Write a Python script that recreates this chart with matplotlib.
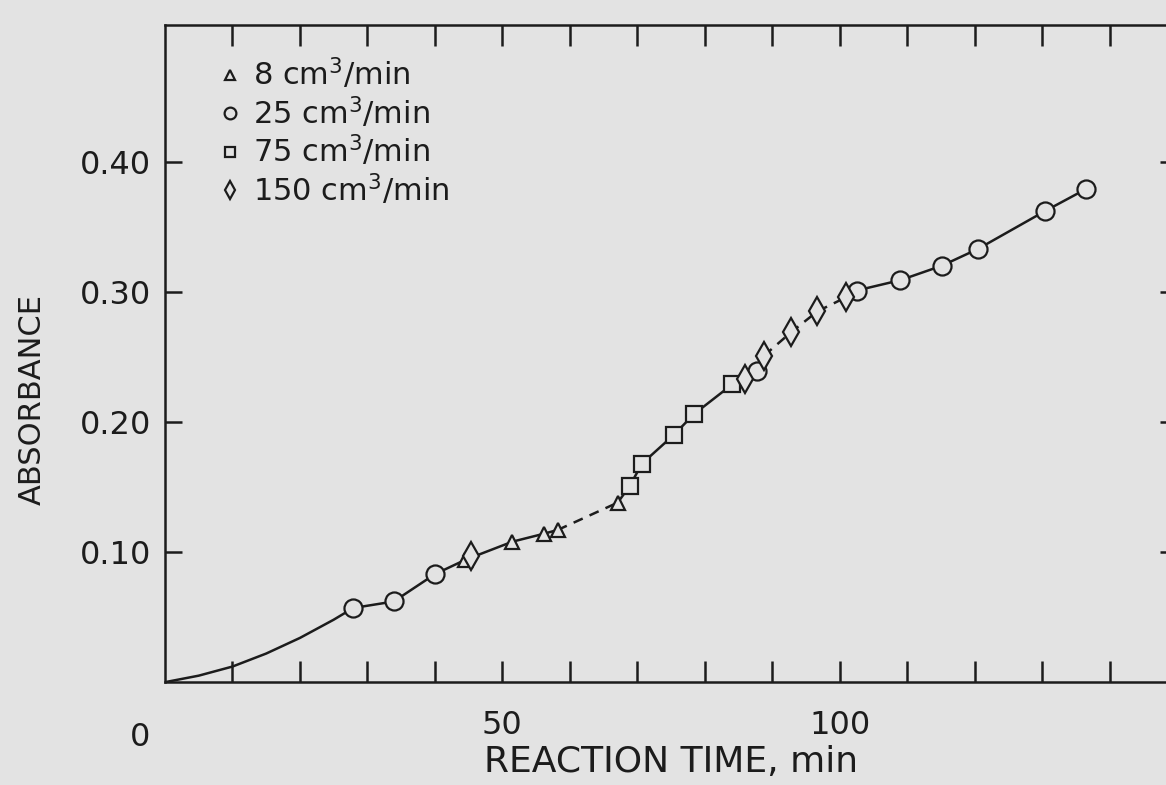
import numpy as np
import matplotlib
matplotlib.use("Agg")
import matplotlib.pyplot as plt

# data (reaction time in min, absorbance)
t_8 = [44.5, 51.5, 56.1, 58.2, 67.1]
a_8 = [0.094, 0.108, 0.114, 0.117, 0.138]

t_25 = [27.9, 33.9, 40.0, 87.8, 102.5, 109.0, 115.1, 120.5, 130.4, 136.5]
a_25 = [0.057, 0.062, 0.083, 0.239, 0.301, 0.309, 0.320, 0.333, 0.362, 0.379]

t_75 = [68.9, 70.7, 75.4, 78.4, 84.1]
a_75 = [0.151, 0.168, 0.190, 0.206, 0.229]

t_150 = [45.3, 86.0, 88.8, 92.8, 96.7, 101.0]
a_150 = [0.097, 0.233, 0.251, 0.269, 0.285, 0.296]

# hand-drawn curve through the points (solid and dashed pieces)
curve1_t = [0, 5, 10, 15, 20, 25, 27.9, 33.9, 40.0, 44.5, 51.5, 56.1, 58.2]
curve1_a = [0, 0.005, 0.012, 0.022, 0.034, 0.048, 0.057, 0.062, 0.083, 0.094, 0.108, 0.114, 0.117]
dash1_t = [58.2, 67.1]
dash1_a = [0.117, 0.138]
curve2_t = [67.1, 68.9, 70.7, 75.4, 78.4, 84.1, 86.0, 87.8, 88.8]
curve2_a = [0.138, 0.151, 0.168, 0.190, 0.206, 0.229, 0.233, 0.239, 0.251]
dash2_t = [88.8, 92.8, 96.7, 101.0]
dash2_a = [0.251, 0.269, 0.285, 0.296]
curve3_t = [101.0, 102.5, 109.0, 115.1, 120.5, 130.4, 136.5]
curve3_a = [0.296, 0.301, 0.309, 0.320, 0.333, 0.362, 0.379]

legend_labels = ["8 cm$^3$/min", "25 cm$^3$/min", "75 cm$^3$/min", "150 cm$^3$/min"]
ytick_vals = [0.10, 0.20, 0.30, 0.40]
ytick_labels = ["0.10", "0.20", "0.30", "0.40"]

bg = "#e3e3e3"
ink = "#1c1c1c"

plt.rcParams['font.family'] = ['DejaVu Sans']
fig = plt.figure(figsize=(11.66, 7.85), dpi=100, facecolor=bg)
ax = fig.add_axes([0.1415, 0.131, 0.868, 0.837], facecolor=bg)

lw = 1.8
ax.plot(curve1_t, curve1_a, color=ink, lw=lw)
ax.plot(dash1_t, dash1_a, color=ink, lw=lw, ls=(0, (4, 3)))
ax.plot(curve2_t, curve2_a, color=ink, lw=lw)
ax.plot(dash2_t, dash2_a, color=ink, lw=lw, ls=(0, (4, 3)))
ax.plot(curve3_t, curve3_a, color=ink, lw=lw)

mk = dict(ls='none', mfc=bg, mec=ink, mew=1.6, zorder=3)
h8, = ax.plot(t_8, a_8, marker='^', ms=10, **mk)
h25, = ax.plot(t_25, a_25, marker='o', ms=13, **mk)
h75, = ax.plot(t_75, a_75, marker='s', ms=11, **mk)
h150, = ax.plot(t_150, a_150, marker='d', ms=14, **mk)

ax.set_xlim(0, 150)
ax.set_ylim(0, 0.505)

ax.set_xticks(np.arange(10, 150, 10))
ax.set_xticklabels(["50" if v == 50 else "100" if v == 100 else "" for v in range(10, 150, 10)])
ax.set_yticks(ytick_vals)
ax.set_yticklabels(ytick_labels)
ax.tick_params(axis='both', direction='in', color=ink, width=1.8, labelcolor=ink, labelsize=23)
ax.tick_params(axis='x', length=15, pad=20, top=True)
ax.tick_params(axis='y', length=12, pad=10, right=True)
for s in ax.spines.values():
    s.set_color(ink)
    s.set_linewidth(1.8)

ax.annotate("0", xy=(0, 0), xytext=(-18, -40), textcoords='offset points',
            ha='center', va='center', fontsize=23, color=ink)

ax.set_xlabel("REACTION TIME, min", fontsize=26, color=ink, labelpad=3)
ax.set_ylabel("ABSORBANCE", fontsize=22, color=ink)
ax.yaxis.set_label_coords(-0.117, 0.43)

ax.legend([h8, h25, h75, h150], legend_labels, loc='upper left',
          bbox_to_anchor=(0.03, 0.995), frameon=False, fontsize=22,
          handlelength=0.5, handletextpad=0.5, labelspacing=0.1,
          markerscale=0.65, labelcolor=ink)

fig.savefig("out.png", dpi=100, facecolor=bg)
